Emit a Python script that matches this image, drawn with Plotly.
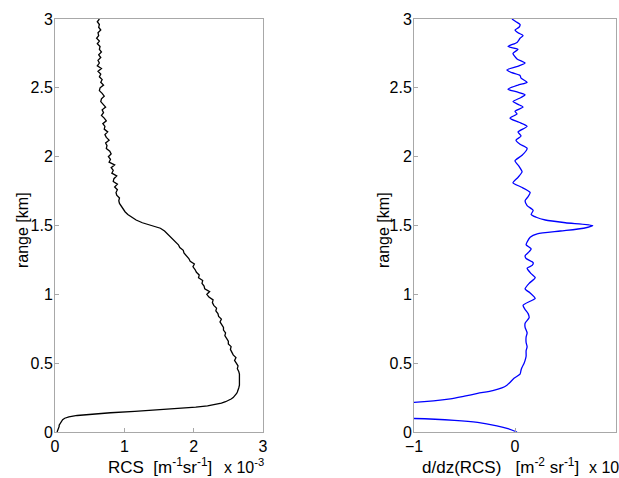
import numpy as np
import plotly.graph_objects as go

# ---------------- data ----------------
# range grid [km]: fine near the ground, 20 m above 0.3 km
range_low = [round(0.01 * i, 2) for i in range(0, 31)]
range_high = [round(0.32 + 0.02 * i, 2) for i in range(0, 135)]
range_km = range_low + range_high

rcs_low = [0.03, 0.04, 0.05, 0.05, 0.06, 0.06, 0.07, 0.08, 0.09, 0.11,
           0.14, 0.20, 0.32, 0.52, 0.80, 1.15, 1.50, 1.80, 2.03, 2.20,
           2.32, 2.40, 2.46, 2.51, 2.54, 2.57, 2.59, 2.61, 2.62, 2.63, 2.64]
rcs_high = [2.65, 2.66, 2.66, 2.67, 2.66, 2.66, 2.65, 2.63, 2.64, 2.62,
            2.59, 2.61, 2.57, 2.55, 2.53, 2.54, 2.50, 2.50, 2.48, 2.45,
            2.46, 2.43, 2.43, 2.41, 2.38, 2.40, 2.36, 2.35, 2.32, 2.33,
            2.29, 2.27, 2.28, 2.22, 2.19, 2.23, 2.16, 2.15, 2.12, 2.13,
            2.07, 2.08, 2.04, 2.02, 1.99, 2.01, 1.95, 1.93, 1.89, 1.86,
            1.85, 1.80, 1.78, 1.74, 1.70, 1.66, 1.62, 1.58, 1.52, 1.37,
            1.26, 1.17, 1.10, 1.05, 1.01, 0.98, 0.96, 0.93, 0.92, 0.93,
            0.89, 0.88, 0.90, 0.86, 0.90, 0.84, 0.85, 0.89, 0.82, 0.84,
            0.81, 0.86, 0.78, 0.80, 0.77, 0.81, 0.79, 0.74, 0.75, 0.73,
            0.78, 0.74, 0.72, 0.76, 0.71, 0.72, 0.69, 0.74, 0.71, 0.67,
            0.70, 0.68, 0.73, 0.69, 0.66, 0.67, 0.71, 0.68, 0.64, 0.65,
            0.70, 0.66, 0.68, 0.64, 0.66, 0.62, 0.67, 0.61, 0.64, 0.62,
            0.66, 0.63, 0.67, 0.64, 0.65, 0.61, 0.64, 0.60, 0.63, 0.62,
            0.66, 0.63, 0.64, 0.61, 0.64]
rcs = rcs_low + rcs_high

# derivative profile: range [km] and d/dz(RCS) [x1e-3]
drange_km = [0.00, 0.025, 0.045, 0.07, 0.085, 0.098, 0.11, 0.13, 0.15, 0.17,
             0.19, 0.205, 0.215, 0.24, 0.26, 0.28, 0.30, 0.32, 0.34, 0.36,
             0.39, 0.42, 0.45, 0.47, 0.50, 0.52, 0.55, 0.59, 0.62, 0.65,
             0.69, 0.72, 0.76, 0.79, 0.83, 0.86, 0.89, 0.92, 0.95, 0.97,
             1.01, 1.04, 1.08, 1.12, 1.15, 1.19, 1.21, 1.23, 1.26, 1.28,
             1.31, 1.33, 1.36, 1.38, 1.415, 1.44, 1.46, 1.48, 1.50, 1.52,
             1.54, 1.56, 1.58, 1.61, 1.645, 1.68, 1.71, 1.74, 1.78, 1.81,
             1.85, 1.89, 1.93, 1.97, 2.01, 2.06, 2.09, 2.12, 2.15, 2.18,
             2.22, 2.25, 2.28, 2.31, 2.33, 2.36, 2.38, 2.40, 2.43, 2.45,
             2.47, 2.49, 2.52, 2.54, 2.57, 2.59, 2.61, 2.63, 2.66, 2.68,
             2.71, 2.75, 2.78, 2.80, 2.83, 2.86, 2.88, 2.90, 2.92, 2.94,
             2.96, 2.98, 3.00]
drcs = [0.02, -0.07, -0.18, -0.37, -0.60, -1.00, -3.0, -12.0, -22.0, -15.0,
        -5.0, -1.6, -1.00, -0.64, -0.50, -0.37, -0.22, -0.13, -0.08, -0.05,
        -0.01, 0.05, 0.06, 0.07, 0.09, 0.10, 0.11, 0.11, 0.12, 0.11,
        0.11, 0.12, 0.10, 0.10, 0.14, 0.13, 0.10, 0.08, 0.15, 0.20,
        0.15, 0.10, 0.14, 0.20, 0.16, 0.12, 0.17, 0.18, 0.11, 0.10,
        0.14, 0.16, 0.11, 0.12, 0.15, 0.22, 0.45, 0.68, 0.77, 0.50,
        0.30, 0.21, 0.16, 0.18, 0.12, 0.10, 0.13, 0.15, 0.06, -0.02,
        0.03, 0.07, 0.04, 0.00, 0.07, 0.12, 0.05, 0.01, 0.06, 0.03,
        0.12, 0.04, -0.05, 0.02, 0.00, 0.08, 0.03, -0.02, 0.06, 0.10,
        0.02, -0.07, 0.03, 0.12, 0.06, 0.05, -0.03, -0.08, 0.04, 0.10,
        0.02, -0.02, 0.03, -0.07, 0.02, 0.05, 0.08, 0.03, 0.00, 0.04,
        0.05, 0.01, -0.03]

xticks_left = [0, 1, 2, 3]
xticks_right = [-1, 0, 1]
yticks = [0, 0.5, 1, 1.5, 2, 2.5, 3]
ytick_text = ["0", "0.5", "1", "1.5", "2", "2.5", "3"]

# ---------------- figure ----------------
W, H = 619, 478
FONT = "Liberation Sans, Arial, sans-serif"
AX = "#a8a8a8"

def px_x(p):
    return p / W

def px_y(p):
    return 1 - p / H

fig = go.Figure()
fig.add_trace(go.Scatter(x=rcs, y=range_km, mode="lines",
                         line=dict(color="black", width=1.3),
                         xaxis="x", yaxis="y", showlegend=False))
fig.add_trace(go.Scatter(x=drcs, y=drange_km, mode="lines",
                         line=dict(color="#0000ff", width=1.3, shape="spline", smoothing=0.6),
                         xaxis="x2", yaxis="y2", showlegend=False))

axis_common = dict(showline=True, mirror=True, linecolor=AX, linewidth=1,
                   ticks="inside", ticklen=4, tickcolor=AX, showgrid=False,
                   zeroline=False, automargin=False,
                   tickfont=dict(family=FONT, size=16, color="black"))

y0, y1 = px_y(432), px_y(19)
fig.update_layout(
    width=W, height=H,
    margin=dict(l=0, r=0, t=0, b=0),
    paper_bgcolor="white", plot_bgcolor="white",
    xaxis=dict(domain=[px_x(55), px_x(263)], range=[0, 3], tickvals=xticks_left,
               anchor="y", ticklabelstandoff=0, **axis_common),
    yaxis=dict(domain=[y0, y1], range=[0, 3], tickvals=yticks, ticktext=ytick_text,
               anchor="x", ticklabelstandoff=-2, **axis_common),
    xaxis2=dict(domain=[px_x(414), px_x(616)], range=[-1, 1], tickvals=xticks_right,
                anchor="y2", ticklabelstandoff=0, **axis_common),
    yaxis2=dict(domain=[y0, y1], range=[0, 3], tickvals=yticks, ticktext=ytick_text,
                anchor="x2", ticklabelstandoff=-2, **axis_common),
)

tf = dict(family=FONT, size=16, color="black")
tf2 = dict(family=FONT, size=17, color="black")
NB = "\u00a0"
ann = [
    dict(x=px_x(22), y=px_y(230), text="range [km]", textangle=-90, font=tf),
    dict(x=px_x(383), y=px_y(230), text="range [km]", textangle=-90, font=tf),
    dict(x=px_x(106), y=px_y(466), text="RCS" + NB + NB + "[m<sup>-1</sup>sr<sup>-1</sup>]",
         xanchor="left", font=tf2),
    dict(x=px_x(222), y=px_y(466), text="x 10<sup>-3</sup>", xanchor="left", font=tf),
    dict(x=px_x(420), y=px_y(466),
         text="d/dz(RCS)" + NB + NB + NB + "[m<sup>-2</sup>" + NB + "sr<sup>-1</sup>]",
         xanchor="left", font=tf2),
    dict(x=px_x(587), y=px_y(466), text="x" + NB + "10<sup>-3</sup>", xanchor="left", font=tf),
]
for a in ann:
    a.setdefault("xanchor", "center")
    fig.add_annotation(xref="paper", yref="paper", yanchor="middle",
                       showarrow=False, **a)

fig.write_html("out.html")
